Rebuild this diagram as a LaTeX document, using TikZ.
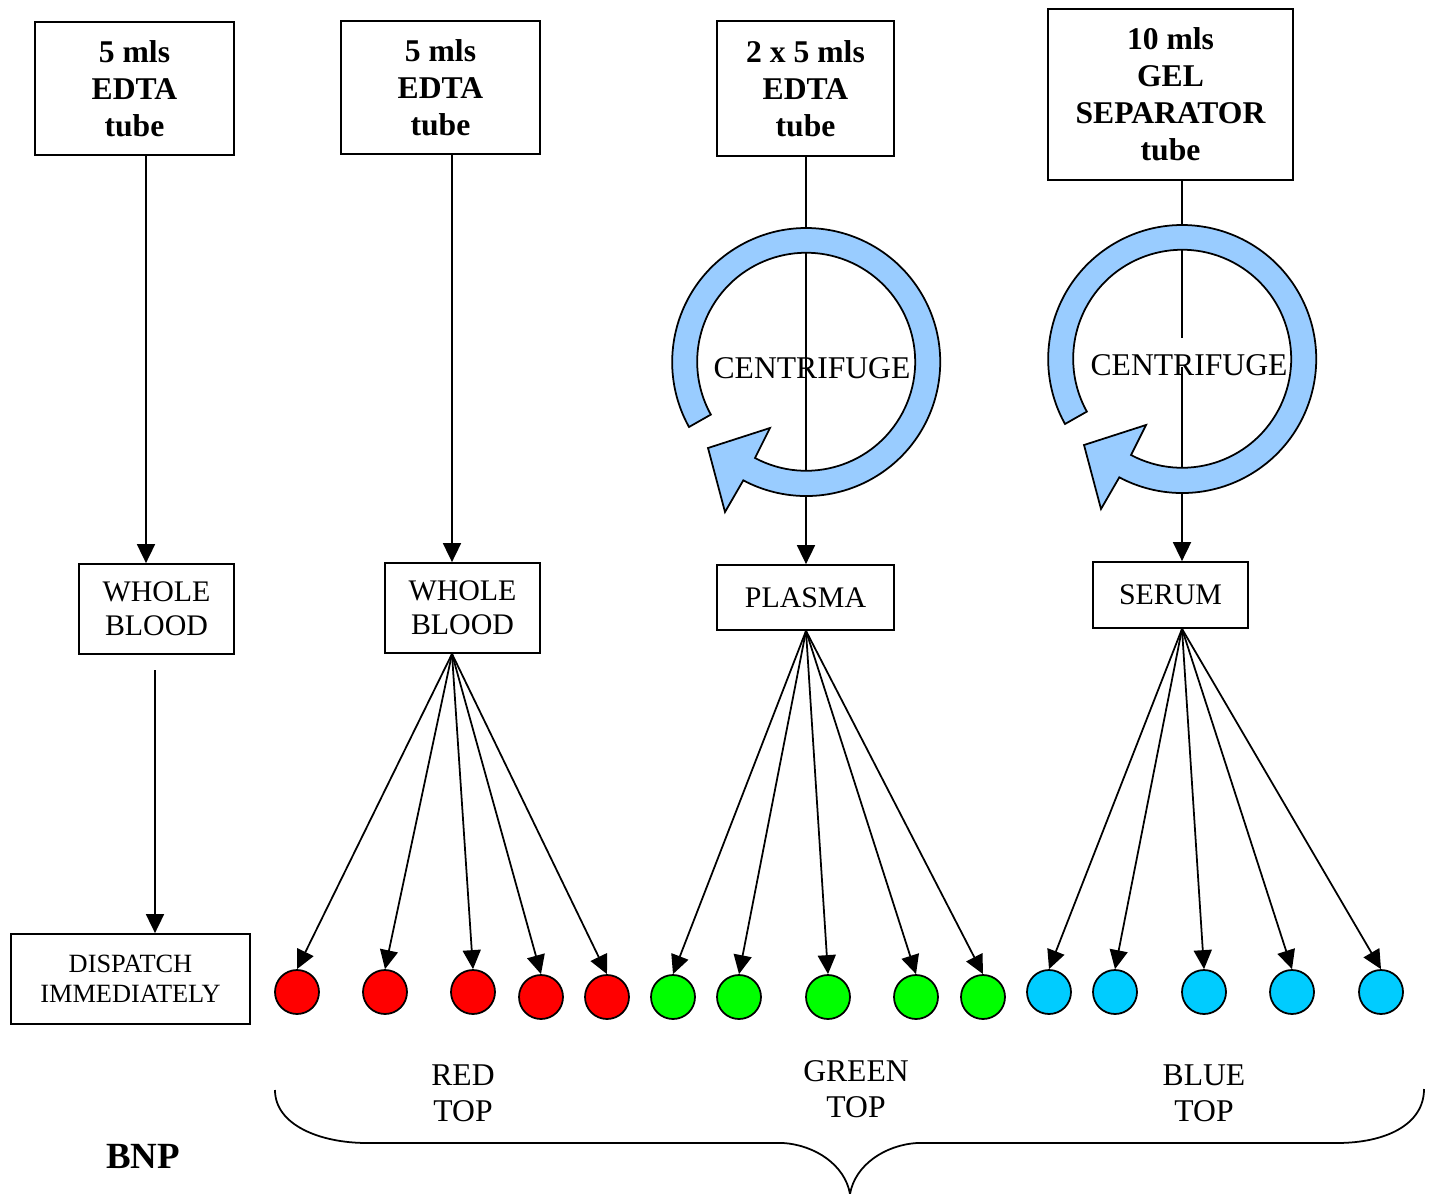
\documentclass[tikz,border=0pt]{standalone}
\usepackage{fontspec}
\setmainfont{Liberation Serif}
\usetikzlibrary{arrows.meta}
\definecolor{spinblue}{RGB}{153,204,255}
\definecolor{bluecap}{RGB}{0,204,255}

\begin{document}
\begin{tikzpicture}[
  line width=1pt,
  tube/.style={draw, align=center, inner sep=0pt, font=\fontsize{18}{21}\selectfont\bfseries},
  sample/.style={draw, align=center, inner sep=0pt, font=\fontsize{17}{19.5}\selectfont},
  dispatchbox/.style={draw, align=center, inner sep=0pt, font=\fontsize{15}{17}\selectfont},
  toptext/.style={align=center, font=\fontsize{18}{20.5}\selectfont},
  spintext/.style={font=\fontsize{18}{21}\selectfont},
  spin/.style={fill=spinblue, draw=black},
  dot/.style={circle, draw, minimum size=0.88cm, inner sep=0pt},
  arr/.style={-{Triangle[length=0.38cm,width=0.36cm]}}
]
  \useasboundingbox (0.00, 0.00) rectangle (28.64, -23.88);

  % tubes
  \node[tube, minimum width=3.98cm, minimum height=2.66cm] (tube1) at (2.69, -1.77) {5 mls\\EDTA\\tube};
  \node[tube, minimum width=3.98cm, minimum height=2.66cm] (tube2) at (8.81, -1.75) {5 mls\\EDTA\\tube};
  \node[tube, minimum width=3.54cm, minimum height=2.70cm] (tube3) at (16.11, -1.77) {2 x 5 mls\\EDTA\\tube};
  \node[tube, minimum width=4.90cm, minimum height=3.42cm] (tube4) at (23.41, -1.89) {10 mls\\GEL\\SEPARATOR\\tube};

  % samples
  \node[sample, minimum width=3.10cm, minimum height=1.80cm] (blood1) at (3.13, -12.18) {WHOLE\\BLOOD};
  \node[sample, minimum width=3.10cm, minimum height=1.80cm] (blood2) at (9.25, -12.16) {WHOLE\\BLOOD};
  \node[sample, minimum width=3.54cm, minimum height=1.30cm] (plasma) at (16.11, -11.95) {PLASMA};
  \node[sample, minimum width=3.10cm, minimum height=1.32cm] (serum) at (23.41, -11.90) {SERUM};
  \node[dispatchbox, minimum width=4.78cm, minimum height=1.80cm] (dispatch) at (2.61, -19.58) {DISPATCH\\IMMEDIATELY};

  \coordinate (x1) at (2.92, 0.00);
  \coordinate (x2) at (9.04, 0.00);
  \coordinate (x3) at (16.12, 0.00);
  \coordinate (gapA) at (23.64, -6.76);
  \coordinate (gapB) at (23.64, -7.34);
  \coordinate (x5) at (3.10, -13.40);

  % tube lines
  \draw[arr] (tube1.south -| x1) -- (blood1.north -| x1);
  \draw[arr] (tube2.south -| x2) -- (blood2.north -| x2);
  \draw[arr] (tube3.south -| x3) -- (plasma.north -| x3);
  \draw (tube4.south -| gapA) -- (gapA);
  \draw[arr] (gapB) -- (serum.north -| gapB);
  \draw[arr] (x5) -- (dispatch.north -| x5);

  % centrifuges
  \filldraw[spin] (13.78, -8.54) arc[start angle=209, end angle=-118, radius=2.68]
    -- (14.50, -10.24) -- (14.16, -8.96) -- (15.40, -8.56) -- (15.10, -9.16)
    arc[start angle=-118, end angle=209, radius=2.18] -- cycle;
  \filldraw[spin] (21.30, -8.48) arc[start angle=209, end angle=-118, radius=2.68]
    -- (22.02, -10.18) -- (21.68, -8.90) -- (22.92, -8.50) -- (22.62, -9.10)
    arc[start angle=-118, end angle=209, radius=2.18] -- cycle;
  \node[spintext] (spin1) at (16.24, -7.36) {CENTRIFUGE};
  \node[spintext] (spin2) at (23.78, -7.30) {CENTRIFUGE};

  % tops
  \node[dot, fill=red] (r1) at (5.94, -19.84) {};
  \node[dot, fill=red] (r2) at (7.70, -19.84) {};
  \node[dot, fill=red] (r3) at (9.46, -19.84) {};
  \node[dot, fill=red] (r4) at (10.82, -19.94) {};
  \node[dot, fill=red] (r5) at (12.14, -19.94) {};
  \node[dot, fill=green] (g1) at (13.46, -19.94) {};
  \node[dot, fill=green] (g2) at (14.78, -19.94) {};
  \node[dot, fill=green] (g3) at (16.56, -19.94) {};
  \node[dot, fill=green] (g4) at (18.32, -19.94) {};
  \node[dot, fill=green] (g5) at (19.66, -19.94) {};
  \node[dot, fill=bluecap] (b1) at (20.98, -19.84) {};
  \node[dot, fill=bluecap] (b2) at (22.30, -19.84) {};
  \node[dot, fill=bluecap] (b3) at (24.08, -19.84) {};
  \node[dot, fill=bluecap] (b4) at (25.84, -19.84) {};
  \node[dot, fill=bluecap] (b5) at (27.62, -19.84) {};

  \draw[arr] (blood2.south -| x2) -- (r1.north);
  \draw[arr] (blood2.south -| x2) -- (r2.north);
  \draw[arr] (blood2.south -| x2) -- (r3.north);
  \draw[arr] (blood2.south -| x2) -- (r4.north);
  \draw[arr] (blood2.south -| x2) -- (r5.north);
  \draw[arr] (plasma.south -| x3) -- (g1.north);
  \draw[arr] (plasma.south -| x3) -- (g2.north);
  \draw[arr] (plasma.south -| x3) -- (g3.north);
  \draw[arr] (plasma.south -| x3) -- (g4.north);
  \draw[arr] (plasma.south -| x3) -- (g5.north);
  \draw[arr] (serum.south -| gapA) -- (b1.north);
  \draw[arr] (serum.south -| gapA) -- (b2.north);
  \draw[arr] (serum.south -| gapA) -- (b3.north);
  \draw[arr] (serum.south -| gapA) -- (b4.north);
  \draw[arr] (serum.south -| gapA) -- (b5.north);

  % brace
  \draw (5.50, -21.80) .. controls (5.50, -22.50) and (6.40, -22.86) .. (7.34, -22.86)
    -- (15.66, -22.86) .. controls (16.30, -22.90) and (16.90, -23.30) .. (17.00, -23.88)
    .. controls (17.10, -23.30) and (17.70, -22.90) .. (18.34, -22.86)
    -- (26.74, -22.86) .. controls (27.70, -22.86) and (28.48, -22.50) .. (28.48, -21.78);

  \node[toptext] (redtop) at (9.26, -21.86) {RED\\TOP};
  \node[toptext] (greentop) at (17.12, -21.78) {GREEN\\TOP};
  \node[toptext] (bluetop) at (24.08, -21.86) {BLUE\\TOP};
  \node[font=\fontsize{21}{24}\selectfont\bfseries] (bnp) at (2.86, -23.12) {BNP};
\end{tikzpicture}
\end{document}
